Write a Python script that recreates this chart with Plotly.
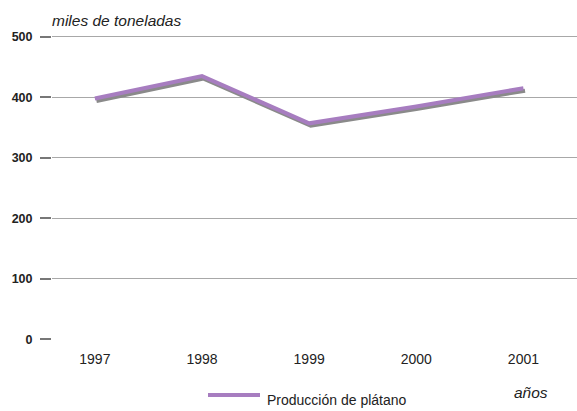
import plotly.graph_objects as go

# Datos
years = [1997, 1998, 1999, 2000, 2001]
produccion = [398, 435, 357, 385, 415]
y_ticks = [0, 100, 200, 300, 400, 500]

purple = "#a77dc0"
shadow = "#8a8a8a"

# area del grafico en pixeles (para colocar leyenda y textos)
L, R, T, B = 52, 577, 35, 340


def px_x(px):
    return (px - L) / (R - L)


def px_y(py):
    return (B - py) / (B - T)


fig = go.Figure()

# sombra de la linea (desplazada un poco hacia abajo)
fig.add_trace(go.Scatter(
    x=[y + 0.015 for y in years], y=[v - 4 for v in produccion],
    mode="lines", line=dict(color=shadow, width=4),
    showlegend=False, hoverinfo="skip"))

fig.add_trace(go.Scatter(
    x=years, y=produccion, mode="lines", name="Producción de plátano",
    line=dict(color=purple, width=4), showlegend=False))

fig.update_layout(
    width=577, height=411,
    margin=dict(l=L, r=577 - R, t=T, b=411 - B),
    plot_bgcolor="white", paper_bgcolor="white",
    font=dict(family="Liberation Sans, Arial, sans-serif", color="#222"),
    showlegend=False,
    xaxis=dict(range=[1996.6, 2001.5], tickvals=years, ticktext=[str(y) for y in years],
               showgrid=False, zeroline=False, showline=False, automargin=False,
               tickfont=dict(size=14, color="#222"), ticks="", ticklabelstandoff=9),
    yaxis=dict(range=[-1, 503], tickvals=y_ticks, showgrid=True, gridcolor="#a8a8a8",
               gridwidth=1, zeroline=False, showline=False, automargin=False,
               ticks="outside", ticklen=11, tickcolor="#777", tickwidth=2,
               tickfont=dict(size=12.5, color="#222", weight="bold"), ticklabelstandoff=5),
)

# leyenda dibujada a mano
fig.add_shape(type="line", xref="paper", yref="paper",
              x0=px_x(208), x1=px_x(260), y0=px_y(395), y1=px_y(395),
              line=dict(color=purple, width=4))
fig.add_annotation(text="Producción de plátano", xref="paper", yref="paper",
                   x=px_x(265), y=px_y(400), xanchor="left", yanchor="middle",
                   showarrow=False, font=dict(size=14, color="#222"))

fig.add_annotation(text="miles de toneladas", xref="paper", yref="paper",
                   x=px_x(50), y=px_y(21), xanchor="left", yanchor="middle", showarrow=False,
                   font=dict(size=15.5, color="#222", style="italic"))
fig.add_annotation(text="años", xref="paper", yref="paper",
                   x=px_x(550), y=px_y(392), xanchor="right", yanchor="middle", showarrow=False,
                   font=dict(size=15.5, color="#222", style="italic"))

# quitar el margen por defecto del body para que el grafico ocupe la ventana
fig.write_html("out.html", config={"displayModeBar": False},
               post_script="document.body.style.margin='0';")
